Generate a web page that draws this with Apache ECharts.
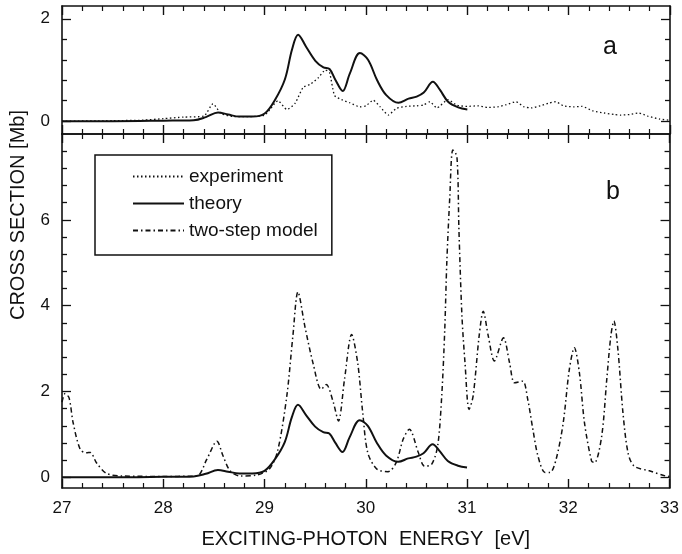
<!DOCTYPE html>
<html lang="en">
<head>
    <meta charset="UTF-8">
    <title>Cross section</title>
    <style>
        html, body { margin: 0; padding: 0; background: #fff; }
        #chart { width: 682px; height: 554px; }
    </style>
</head>
<body>
<div id="chart"></div>

<script type="text/javascript" src="https://cdn.jsdelivr.net/npm/echarts@6/dist/echarts.min.js"></script>
<script>
    // photon energy [eV], cross section [Mb]
    var experimentData = [
        [27.0,0],[27.5,0.01],[27.8,0.02],[28.0,0.05],[28.2,0.08],[28.4,0.1],[28.49,0.34],[28.57,0.15],
        [28.7,0.09],[28.85,0.09],[29.0,0.12],[29.06,0.25],[29.13,0.4],[29.22,0.23],[29.3,0.35],[29.38,0.66],
        [29.45,0.72],[29.53,0.85],[29.6,1.0],[29.64,0.95],[29.69,0.5],[29.76,0.42],[29.84,0.36],[29.94,0.28],
        [30.0,0.3],[30.07,0.41],[30.14,0.28],[30.22,0.12],[30.3,0.25],[30.4,0.29],[30.5,0.3],[30.57,0.32],
        [30.63,0.38],[30.7,0.26],[30.81,0.42],[30.9,0.31],[31.0,0.29],[31.1,0.3],[31.2,0.27],[31.3,0.28],
        [31.38,0.32],[31.48,0.38],[31.56,0.28],[31.63,0.26],[31.72,0.3],[31.8,0.35],[31.87,0.38],[31.95,0.3],
        [32.05,0.28],[32.13,0.29],[32.24,0.2],[32.35,0.16],[32.45,0.13],[32.51,0.12],[32.6,0.13],[32.69,0.16],
        [32.78,0.1],[32.9,0.04],[33.0,0.02]
    ];
    var theoryData = [
        [27.0,0],[27.5,0],[28.0,0.01],[28.3,0.02],[28.42,0.08],[28.54,0.17],[28.64,0.13],[28.75,0.09],
        [28.88,0.09],[29.0,0.15],[29.1,0.41],[29.2,0.82],[29.27,1.4],[29.33,1.69],[29.41,1.45],[29.5,1.18],
        [29.58,1.05],[29.64,1.02],[29.7,0.8],[29.77,0.59],[29.84,0.93],[29.94,1.33],[30.02,1.2],[30.11,0.8],
        [30.2,0.51],[30.32,0.36],[30.42,0.44],[30.5,0.48],[30.57,0.56],[30.66,0.77],[30.73,0.61],[30.81,0.38],
        [30.91,0.27],[31.0,0.23]
    ];
    var twoStepData = [
        [27.0,1.75],[27.03,1.95],[27.07,1.85],[27.11,1.27],[27.18,0.65],[27.24,0.57],[27.28,0.58],[27.34,0.34],
        [27.44,0.09],[27.6,0.03],[28.0,0.02],[28.33,0.03],[28.43,0.42],[28.53,0.84],[28.59,0.5],[28.66,0.15],
        [28.76,0.03],[28.92,0.05],[29.05,0.2],[29.13,0.62],[29.22,1.89],[29.28,3.29],[29.33,4.32],[29.4,3.5],
        [29.48,2.65],[29.56,2.05],[29.61,2.16],[29.68,1.74],[29.73,1.31],[29.79,2.28],[29.86,3.33],[29.92,2.67],
        [29.97,1.5],[30.02,0.57],[30.11,0.19],[30.22,0.13],[30.3,0.34],[30.37,0.89],[30.43,1.12],[30.52,0.57],
        [30.58,0.26],[30.65,0.3],[30.71,0.73],[30.75,1.89],[30.78,3.44],[30.8,4.99],[30.83,6.54],[30.86,7.63],
        [30.9,7.48],[30.92,5.77],[30.95,3.75],[30.98,2.67],[31.02,1.58],[31.06,1.89],[31.12,3.3],[31.16,3.87],
        [31.21,3.29],[31.27,2.71],[31.36,3.25],[31.42,2.67],[31.47,2.2],[31.55,2.24],[31.6,1.81],[31.65,1.12],
        [31.7,0.5],[31.77,0.11],[31.82,0.11],[31.88,0.42],[31.95,1.27],[32.01,2.51],[32.06,3.02],[32.11,2.43],
        [32.16,1.27],[32.23,0.38],[32.26,0.34],[32.33,0.96],[32.38,2.28],[32.42,3.29],[32.45,3.64],[32.49,2.98],
        [32.54,1.5],[32.59,0.57],[32.65,0.26],[32.8,0.15],[32.96,0.03],[33.0,0.02]
    ];

    var topLabels = [0, 2];
    var bottomLabels = [0, 2, 4, 6];
    var seriesNames = ['experiment', 'theory', 'two-step model'];

    var font = 'Liberation Sans';
    var ink = '#111';

    // minor y ticks every 0.4 between the labelled ones
    function minorTicks(maxVal) {
        var out = [];
        for (var i = 1; i * 0.4 < maxVal; i++) {
            if (i % 5 !== 0) out.push(Math.round(i * 4) / 10);
        }
        return out;
    }

    function xAxis(gridIndex, position, showLabel) {
        return {
            type: 'value', gridIndex: gridIndex, position: position,
            min: 27, max: 33, interval: 1,
            axisLine: {onZero: false, lineStyle: {color: ink, width: 1.6}},
            axisTick: {inside: true, length: 9, lineStyle: {color: ink, width: 1.4}},
            minorTick: {show: true, splitNumber: 5, length: 5, lineStyle: {color: ink, width: 1.2}},
            splitLine: {show: false},
            minorSplitLine: {show: false},
            axisLabel: {show: showLabel, color: ink, fontSize: 17, fontFamily: font, margin: 12}
        };
    }

    function yAxis(gridIndex, position, min, max, ticks, major, showLabel) {
        return {
            type: 'value', gridIndex: gridIndex, position: position,
            min: min, max: max,
            axisLine: {show: major, onZero: false, lineStyle: {color: ink, width: 1.6}},
            axisTick: {inside: true, length: major ? 9 : 5, customValues: ticks, lineStyle: {color: ink, width: 1.3}},
            splitLine: {show: false},
            axisLabel: {show: showLabel, customValues: ticks, color: ink, fontSize: 17, fontFamily: font, margin: 12}
        };
    }

    var chart = echarts.init(document.getElementById('chart'));

    var option = {
        backgroundColor: '#fff',
        animation: false,
        grid: [
            {left: 62, right: 12, top: 6, height: 128},
            {left: 62, right: 12, top: 134, height: 355}
        ],
        xAxis: [
            xAxis(0, 'bottom', false),
            xAxis(0, 'top', false),
            Object.assign(xAxis(1, 'bottom', true), {
                name: 'EXCITING-PHOTON  ENERGY  [eV]',
                nameLocation: 'middle',
                nameGap: 41,
                nameTextStyle: {color: ink, fontSize: 20, fontFamily: font}
            }),
            xAxis(1, 'top', false)
        ],
        yAxis: [
            yAxis(0, 'left', -0.25, 2.25, topLabels, true, true),
            yAxis(0, 'left', -0.25, 2.25, minorTicks(2.25), false, false),
            yAxis(0, 'right', -0.25, 2.25, topLabels, true, false),
            yAxis(0, 'right', -0.25, 2.25, minorTicks(2.25), false, false),
            yAxis(1, 'left', -0.25, 8, bottomLabels, true, true),
            yAxis(1, 'left', -0.25, 8, minorTicks(8), false, false),
            yAxis(1, 'right', -0.25, 8, bottomLabels, true, false),
            yAxis(1, 'right', -0.25, 8, minorTicks(8), false, false)
        ],
        legend: {
            data: seriesNames,
            orient: 'vertical',
            left: 95, top: 155,
            itemWidth: 51, itemHeight: 14, itemGap: 8,
            padding: [12, 14, 15, 37],
            backgroundColor: '#fff',
            borderColor: ink, borderWidth: 1.5,
            // hide the round marker, keep only the line sample
            itemStyle: {color: 'rgba(0,0,0,0)', borderColor: 'rgba(0,0,0,0)', borderWidth: 0},
            textStyle: {color: ink, fontSize: 19, fontFamily: font},
            selectedMode: false
        },
        graphic: [
            {type: 'text', x: 18, y: 215, rotation: Math.PI / 2,
                style: {text: 'CROSS SECTION [Mb]', fill: ink, fontSize: 20, fontFamily: font, align: 'center', verticalAlign: 'middle'}},
            {type: 'text', x: 610, y: 47,
                style: {text: 'a', fill: ink, fontSize: 25, fontFamily: font, align: 'center', verticalAlign: 'middle'}},
            {type: 'text', x: 613, y: 192,
                style: {text: 'b', fill: ink, fontSize: 25, fontFamily: font, align: 'center', verticalAlign: 'middle'}}
        ],
        series: [
            {name: 'experiment', type: 'line', xAxisIndex: 0, yAxisIndex: 0, data: experimentData,
                symbol: 'none', smooth: 0.2, lineStyle: {color: ink, width: 1.3, type: [1.5, 2.5]}, itemStyle: {color: ink}},
            {name: 'theory', type: 'line', xAxisIndex: 0, yAxisIndex: 0, data: theoryData,
                symbol: 'none', smooth: 0.35, lineStyle: {color: ink, width: 2}, itemStyle: {color: ink}},
            {name: 'theory', type: 'line', xAxisIndex: 2, yAxisIndex: 4, data: theoryData,
                symbol: 'none', smooth: 0.35, lineStyle: {color: ink, width: 2}, itemStyle: {color: ink}},
            {name: 'two-step model', type: 'line', xAxisIndex: 2, yAxisIndex: 4, data: twoStepData,
                symbol: 'none', smooth: 0.3, lineStyle: {color: ink, width: 1.5, type: [5, 3, 1.5, 3]}, itemStyle: {color: ink}}
        ]
    };

    chart.setOption(option);
</script>
</body>
</html>
